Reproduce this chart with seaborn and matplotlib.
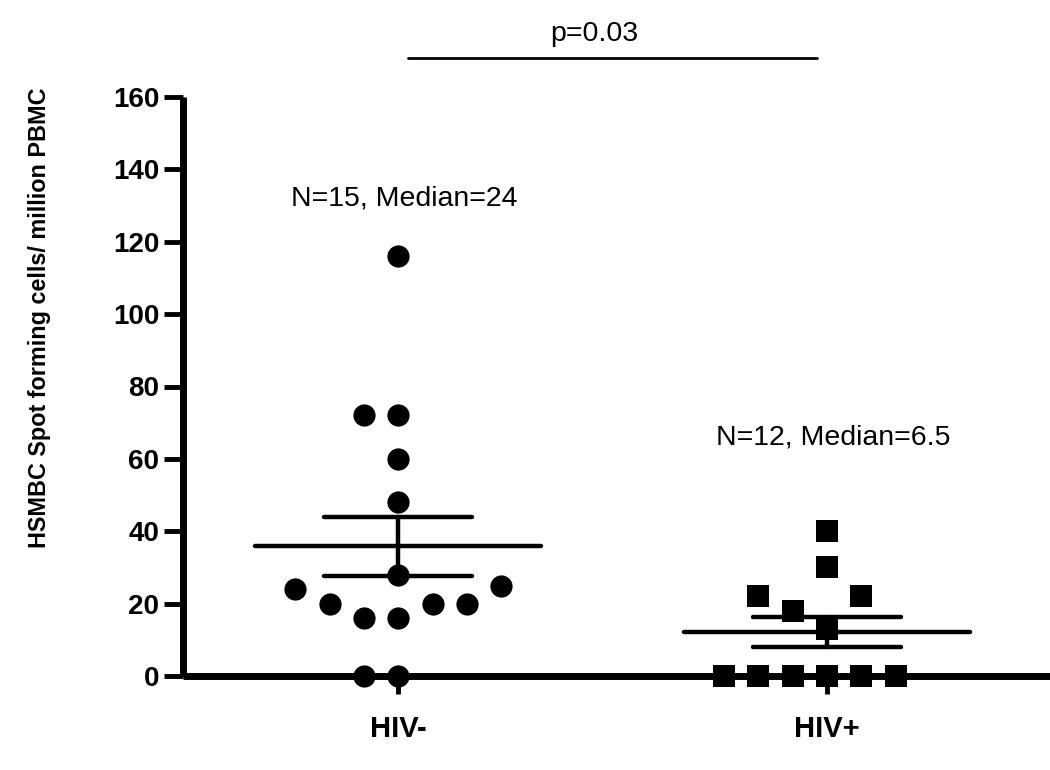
import numpy as np
import pandas as pd
import matplotlib
matplotlib.use("Agg")
import matplotlib.pyplot as plt
import seaborn as sns

groups = ["HIV-", "HIV+"]
hiv_neg = [116, 72, 72, 60, 48, 28, 25, 24, 20, 20, 20, 16, 16, 0, 0]
hiv_pos = [40, 30, 22, 22, 18, 13, 0, 0, 0, 0, 0, 0]
markers = ["o", "s"]
notes = ["N=15, Median=24", "N=12, Median=6.5"]
note_y = [132, 66]
p_label = "p=0.03"


def slot_layout(vals, step=0.08, gap=10):
    # Prism-style column scatter: points go in fixed slots, nearest the centre first
    order = np.argsort(vals, kind="stable")
    slots = [0]
    for k in range(1, 8):
        slots += [-k, k]
    placed = {}
    offs = np.zeros(len(vals))
    for idx in order:
        v = vals[idx]
        for s in slots:
            if all(abs(v - u) >= gap for u in placed.get(s, [])):
                placed.setdefault(s, []).append(v)
                offs[idx] = s * step
                break
    return offs


rows = []
for i, (g, vals) in enumerate(zip(groups, [hiv_neg, hiv_pos])):
    vals = np.array(vals, dtype=float)
    xs = i + slot_layout(vals)
    rows.append(pd.DataFrame({"group": g, "x": xs, "value": vals}))
df = pd.concat(rows, ignore_index=True)

sns.set_style("ticks")
plt.rcParams["font.family"] = ["Liberation Sans", "DejaVu Sans"]
for key in ["text.color", "axes.edgecolor", "axes.labelcolor", "xtick.color", "ytick.color"]:
    plt.rcParams[key] = "black"

fig = plt.figure(figsize=(10.5, 7.7), dpi=100)
ax = fig.add_axes([183 / 1050, 1 - 676 / 770, 1 - 183 / 1050, (676 - 97) / 770])

for g, mk in zip(groups, markers):
    sub = df[df["group"] == g]
    sns.scatterplot(data=sub, x="x", y="value", marker=mk, color="black",
                    s=16 ** 2, linewidth=0, ax=ax, zorder=5, clip_on=False)

# mean and SEM bars
for i, g in enumerate(groups):
    vals = df.loc[df["group"] == g, "value"].to_numpy()
    m = vals.mean()
    se = vals.std(ddof=1) / np.sqrt(len(vals))
    kw = dict(color="black", lw=3.2, solid_capstyle="round", zorder=4, clip_on=False)
    ax.plot([i - 0.333, i + 0.333], [m, m], **kw)
    ax.plot([i - 0.172, i + 0.172], [m + se, m + se], **kw)
    ax.plot([i - 0.172, i + 0.172], [m - se, m - se], **kw)
    ax.plot([i, i], [m - se, m + se], **kw)
    ax.text(i + 0.014, note_y[i], notes[i], ha="center", va="center", fontsize=20.5)

# significance bar
ax.plot([0.023, 0.977], [170.7, 170.7], color="black", lw=2, clip_on=False)
ax.text(0.457, 177.3, p_label, ha="center", va="center", fontsize=20.5)

ax.set_xlim(-0.502, 1.52)
ax.set_ylim(0, 160)
ax.set_xticks(range(len(groups)))
ax.set_xticklabels(groups)
ax.set_yticks(np.arange(0, 161, 20))
ax.set_xlabel("")
ax.set_ylabel("HSMBC Spot forming cells/ million PBMC", fontsize=16.8,
              fontweight="bold")
ax.yaxis.set_label_coords(-0.152, 0.618)
sns.despine(ax=ax)
for side in ["left", "bottom"]:
    ax.spines[side].set_linewidth(5)
    ax.spines[side].set_capstyle("butt")
ax.tick_params(axis="y", length=14, width=3.5, labelsize=20, pad=3)
ax.tick_params(axis="x", length=13, width=3.5, labelsize=21, pad=15)
for lab in ax.get_xticklabels() + ax.get_yticklabels():
    lab.set_fontweight("bold")

fig.savefig("out.png", dpi=100)
